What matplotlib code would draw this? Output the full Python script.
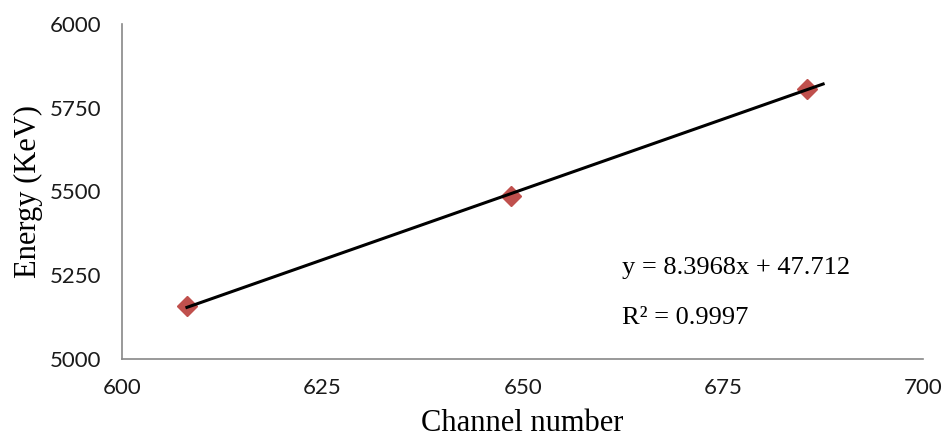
import matplotlib
matplotlib.use('Agg')
import matplotlib.pyplot as plt
import numpy as np

# calibration points
channel = [608.1, 648.5, 685.5]
energy = [5157, 5486, 5805]

slope, intercept = 8.3968, 47.712
fit_x = [608.1, 687.5]

x_ticks = [600, 625, 650, 675, 700]
y_ticks = [5000, 5250, 5500, 5750, 6000]

fig = plt.figure(figsize=(9.46, 4.42), dpi=100)
ax = fig.add_axes([0.129, 0.188, 0.847, 0.758])

fx = np.array(fit_x)
ax.plot(fx, slope * fx + intercept, color='black', lw=2.2, zorder=3)
ax.plot(channel, energy, linestyle='none', marker='D', ms=10,
        color='#C0504D', mec='#C0504D', zorder=2)

ax.set_xlim(600, 700)
ax.set_ylim(5000, 6000)
ax.set_xticks(x_ticks)
ax.set_yticks(y_ticks)
ax.tick_params(length=0, labelsize=16, labelcolor='#1a1a1a')
ax.tick_params(axis='y', pad=15)
ax.tick_params(axis='x', pad=14)
for lab in ax.get_xticklabels() + ax.get_yticklabels():
    lab.set_family('Lato')

for side in ('top', 'right'):
    ax.spines[side].set_visible(False)
for side in ('left', 'bottom'):
    ax.spines[side].set_color('#888888')
    ax.spines[side].set_linewidth(1.2)

ax.set_xlabel('Channel number', family='Liberation Serif', fontsize=22, labelpad=8)
ax.set_ylabel('Energy (KeV)', family='Liberation Serif', fontsize=22, labelpad=5)

ax.text(0.624, 0.272, 'y = 8.3968x + 47.712', transform=ax.transAxes,
        family='Liberation Serif', fontsize=19, va='center')
ax.text(0.624, 0.122, 'R² = 0.9997', transform=ax.transAxes,
        family='Liberation Serif', fontsize=19, va='center')

fig.savefig('out.png', dpi=100)
